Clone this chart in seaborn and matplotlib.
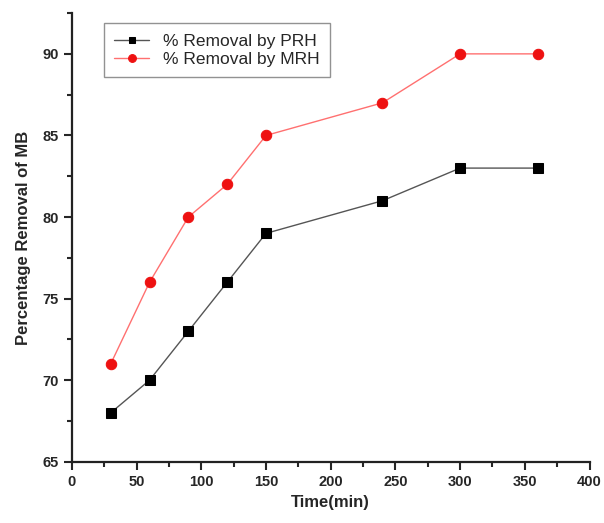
import matplotlib
matplotlib.use("Agg")
import matplotlib.pyplot as plt
import pandas as pd
import seaborn as sns
from matplotlib.ticker import MultipleLocator

time_min = [30, 60, 90, 120, 150, 240, 300, 360]
removal_prh = [68, 70, 73, 76, 79, 81, 83, 83]
removal_mrh = [71, 76, 80, 82, 85, 87, 90, 90]

df = pd.DataFrame({
    "time": time_min * 2,
    "removal": removal_prh + removal_mrh,
    "series": ["% Removal by PRH"] * len(time_min) + ["% Removal by MRH"] * len(time_min),
})

sns.set_style("ticks")
plt.rcParams["font.family"] = ["Liberation Sans", "DejaVu Sans"]

fig = plt.figure(figsize=(6.04, 5.23), dpi=100)
ax = fig.add_axes([0.119, 0.117, 0.857, 0.858])

sns.lineplot(data=df[df.series == "% Removal by PRH"], x="time", y="removal",
             color="#555555", marker="s", markersize=6.5, markerfacecolor="black",
             markeredgecolor="black", linewidth=1, label="% Removal by PRH", ax=ax)
sns.lineplot(data=df[df.series == "% Removal by MRH"], x="time", y="removal",
             color="#ff7070", marker="o", markersize=7.5, markerfacecolor="#ee1111",
             markeredgecolor="#ee1111", linewidth=1, label="% Removal by MRH", ax=ax)

ax.set_xlim(0, 400)
ax.set_ylim(65, 92.5)
ax.xaxis.set_major_locator(MultipleLocator(50))
ax.xaxis.set_minor_locator(MultipleLocator(25))
ax.yaxis.set_major_locator(MultipleLocator(5))
ax.yaxis.set_minor_locator(MultipleLocator(2.5))
ax.tick_params(which="major", direction="out", length=6, width=1.5, labelsize=10.5)
ax.tick_params(which="minor", direction="out", length=3.5, width=1.5)
for lab in ax.get_xticklabels() + ax.get_yticklabels():
    lab.set_fontweight("bold")
sns.despine(ax=ax)
for s in ("left", "bottom"):
    ax.spines[s].set_linewidth(1.6)
    ax.spines[s].set_color("#222222")

ax.set_xlabel("Time(min)", fontsize=12, fontweight="bold")
ax.set_ylabel("Percentage Removal of MB", fontsize=12, fontweight="bold", labelpad=8)

leg = ax.legend(loc="upper left", bbox_to_anchor=(0.055, 0.985), fontsize=12.5,
                frameon=True, fancybox=False, edgecolor="#777777",
                handlelength=2.0, borderpad=0.6, labelspacing=0.15,
                markerscale=0.75, borderaxespad=0.2)
leg.get_frame().set_linewidth(1)

fig.savefig("out.png", dpi=100)
